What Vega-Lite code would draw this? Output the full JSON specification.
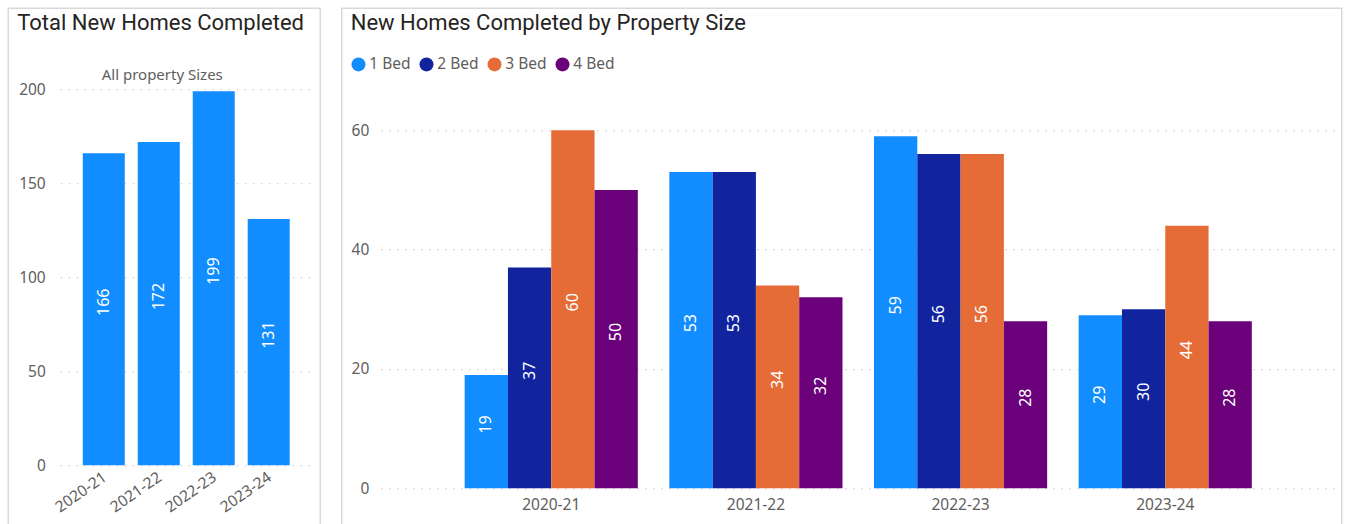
{
  "$schema": "https://vega.github.io/schema/vega-lite/v6.json",
  "padding": {"left": 7.25, "top": 7.25, "right": 0, "bottom": 0},
  "background": "white",
  "data": {
    "values": [
      {"year": "2020-21", "size": "1 Bed", "homes": 19},
      {"year": "2020-21", "size": "2 Bed", "homes": 37},
      {"year": "2020-21", "size": "3 Bed", "homes": 60},
      {"year": "2020-21", "size": "4 Bed", "homes": 50},
      {"year": "2021-22", "size": "1 Bed", "homes": 53},
      {"year": "2021-22", "size": "2 Bed", "homes": 53},
      {"year": "2021-22", "size": "3 Bed", "homes": 34},
      {"year": "2021-22", "size": "4 Bed", "homes": 32},
      {"year": "2022-23", "size": "1 Bed", "homes": 59},
      {"year": "2022-23", "size": "2 Bed", "homes": 56},
      {"year": "2022-23", "size": "3 Bed", "homes": 56},
      {"year": "2022-23", "size": "4 Bed", "homes": 28},
      {"year": "2023-24", "size": "1 Bed", "homes": 29},
      {"year": "2023-24", "size": "2 Bed", "homes": 30},
      {"year": "2023-24", "size": "3 Bed", "homes": 44},
      {"year": "2023-24", "size": "4 Bed", "homes": 28}
    ]
  },
  "concat": [
    {
      "width": 312,
      "height": 525,
      "title": {"text": "Total New Homes Completed", "anchor": "start", "frame": "group", "dx": 9, "baseline": "alphabetic", "font": "Roboto", "fontSize": 22, "fontWeight": "normal", "color": "#252423", "offset": -44},
      "layer": [
        {
          "mark": {"type": "bar", "color": "#118DFF"},
          "encoding": {
            "x": {"field": "year", "type": "nominal", "scale": {"range": [52, 304], "paddingInner": 0.236, "paddingOuter": 0.41},
              "axis": {"title": null, "offset": -68, "labelAngle": -35, "labelAlign": "right", "labelBaseline": "top", "labelPadding": 4, "labelOffset": -3, "labelFontSize": 15.5, "ticks": false, "domain": false}},
            "y": {"aggregate": "sum", "field": "homes", "type": "quantitative", "scale": {"domain": [0, 200], "range": [457, 81], "nice": false},
              "axis": {"values": [0, 50, 100, 150, 200], "offset": -52, "title": "All property Sizes", "titleAngle": 0, "titleAlign": "center", "titleBaseline": "alphabetic", "titleX": 101.5, "titleY": 71, "titleFont": "Noto Sans", "titleFontSize": 15, "titleFontWeight": "normal", "titleColor": "#605E5C", "labelPadding": 15}}
          }
        },
        {
          "mark": {"type": "text", "angle": -90, "align": "center", "baseline": "middle", "dx": 7, "color": "white", "font": "Noto Sans", "fontSize": 16},
          "encoding": {
            "x": {"field": "year", "type": "nominal"},
            "y": {"aggregate": "sum", "field": "homes", "type": "quantitative", "scale": {"domain": [0, 400], "range": [457, 81], "nice": false}, "axis": null},
            "text": {"aggregate": "sum", "field": "homes", "type": "quantitative"}
          }
        }
      ],
      "resolve": {"scale": {"y": "independent"}}
    },
    {
      "width": 1000,
      "height": 525,
      "title": {"text": "New Homes Completed by Property Size", "anchor": "start", "frame": "group", "dx": 9, "baseline": "alphabetic", "font": "Roboto", "fontSize": 22, "fontWeight": "normal", "color": "#252423", "offset": -44},
      "layer": [
        {
          "mark": {"type": "bar"},
          "encoding": {
            "x": {"field": "year", "type": "nominal", "scale": {"range": [39, 994], "paddingInner": 0.154, "paddingOuter": 0.41},
              "axis": {"title": null, "offset": -45, "labelAngle": 0, "labelPadding": 9, "ticks": false, "domain": false}},
            "xOffset": {"field": "size", "type": "nominal", "scale": {"paddingInner": 0, "paddingOuter": 0}},
            "y": {"field": "homes", "type": "quantitative", "scale": {"domain": [0, 60], "range": [480, 122], "nice": false},
              "axis": {"values": [0, 20, 40, 60], "offset": -39, "title": null, "labelPadding": 12}},
            "color": {"field": "size", "type": "nominal", "scale": {"domain": ["1 Bed", "2 Bed", "3 Bed", "4 Bed"], "range": ["#118DFF", "#12239E", "#E66C37", "#6B007B"]},
              "legend": {"title": null, "orient": "none", "legendX": 9, "legendY": 48, "direction": "horizontal", "symbolType": "circle", "symbolSize": 196, "symbolOpacity": 1, "symbolStrokeWidth": 0, "labelFont": "Noto Sans", "labelFontSize": 15.5, "labelColor": "#605E5C", "labelOffset": 3, "columnPadding": 8}}
          }
        },
        {
          "mark": {"type": "text", "angle": -90, "align": "center", "baseline": "middle", "dx": 7, "color": "white", "font": "Noto Sans", "fontSize": 16},
          "encoding": {
            "x": {"field": "year", "type": "nominal"},
            "xOffset": {"field": "size", "type": "nominal"},
            "y": {"field": "homes", "type": "quantitative", "scale": {"domain": [0, 120], "range": [480, 122], "nice": false}, "axis": null},
            "text": {"field": "homes", "type": "quantitative"}
          }
        }
      ],
      "resolve": {"scale": {"y": "independent"}}
    }
  ],
  "columns": 2,
  "align": "none",
  "spacing": 19.5,
  "resolve": {"scale": {"color": "independent"}, "legend": {"color": "independent"}},
  "config": {
    "view": {"stroke": "#D9D9D9", "strokeWidth": 1.5},
    "axis": {"labelFont": "Noto Sans", "labelFontSize": 15.5, "labelColor": "#605E5C", "gridColor": "#C8C6C4", "gridDash": [1.5, 6.5], "gridWidth": 1, "domain": false, "ticks": false},
    "axisX": {"grid": false}
  }
}
